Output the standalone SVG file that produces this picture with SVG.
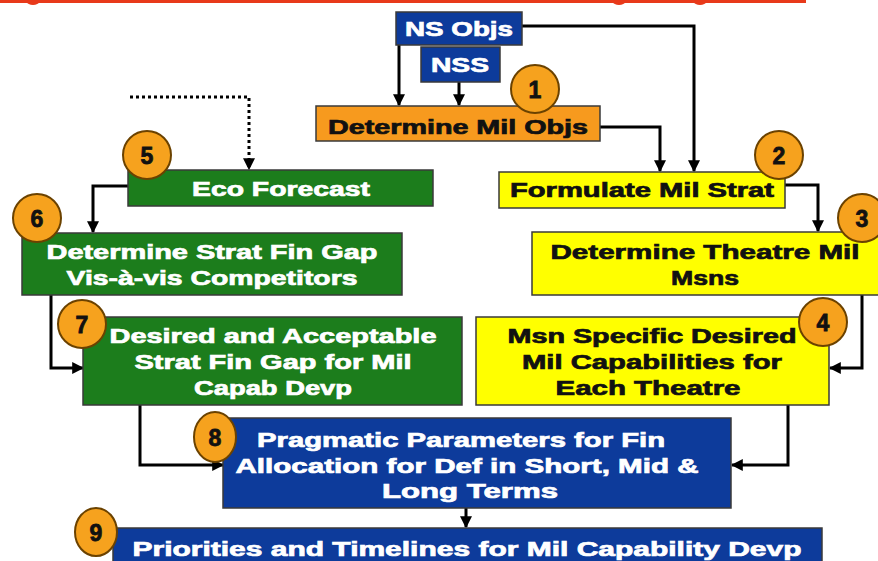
<svg xmlns="http://www.w3.org/2000/svg" width="878" height="561" viewBox="0 0 878 561">
<defs>
<style>
.bx{stroke:#3a3a3a;stroke-width:1.5}
.blue{fill:#0d3b9b}
.green{fill:#1c7d1c}
.yellow{fill:#ffff00}
.orange{fill:#f79a1e}
.t{font-family:"Liberation Sans",Arial,sans-serif;font-weight:bold;font-size:20px;text-anchor:middle}
.w{fill:#ffffff;stroke:#ffffff;stroke-width:0.7}
.k{fill:#111111;stroke:#111111;stroke-width:0.7}
.n{font-family:"Liberation Sans",Arial,sans-serif;font-weight:bold;font-size:23px;text-anchor:middle;fill:#111;stroke:#111;stroke-width:0.8}
.c{fill:#f6a21e;stroke:#6b4200;stroke-width:2}
.ln{fill:none;stroke:#000;stroke-width:3}
.dot{fill:none;stroke:#000;stroke-width:3;stroke-dasharray:3 3}
</style>
<marker id="ah" markerUnits="userSpaceOnUse" viewBox="0 0 10 10" refX="9" refY="5" markerWidth="12" markerHeight="12" orient="auto">
<path d="M0,0 L10,5 L0,10 z" fill="#000"/>
</marker>
</defs>
<rect width="878" height="561" fill="#ffffff"/>
<g id="title-edge">
<rect x="0" y="0" width="806" height="3" fill="#e8391a"/>
<ellipse cx="33" cy="2" rx="6" ry="3" fill="#e8391a"/>
<ellipse cx="619" cy="2" rx="6" ry="3" fill="#e8391a"/>
<ellipse cx="700" cy="2" rx="6" ry="3" fill="#e8391a"/>
</g>
<g id="connectors">
<path class="ln" d="M399,45 V105" marker-end="url(#ah)"/>
<path class="ln" d="M459,82 V105" marker-end="url(#ah)"/>
<path class="ln" d="M522,26 H694 V171" marker-end="url(#ah)"/>
<path class="ln" d="M600,127 H660 V171" marker-end="url(#ah)"/>
<path class="ln" d="M785,185 H818 V231" marker-end="url(#ah)"/>
<path class="ln" d="M862,295 V368 H830" marker-end="url(#ah)"/>
<path class="ln" d="M788,405 V465 H732" marker-end="url(#ah)"/>
<path class="dot" d="M130,97 H249 V169" marker-end="url(#ah)"/>
<path class="ln" d="M128,186 H93 V232" marker-end="url(#ah)"/>
<path class="ln" d="M51,295 V368 H83" marker-end="url(#ah)"/>
<path class="ln" d="M140,405 V465 H223" marker-end="url(#ah)"/>
<path class="ln" d="M466,508 V527" marker-end="url(#ah)"/>
</g>
<g id="ns-objs">
<rect class="bx blue" x="396" y="12" width="126" height="33"/>
<text class="t w" x="459" y="36" textLength="108" lengthAdjust="spacingAndGlyphs">NS Objs</text>
</g>
<g id="nss">
<rect class="bx blue" x="421" y="47" width="79" height="35"/>
<text class="t w" x="460" y="72" textLength="58" lengthAdjust="spacingAndGlyphs">NSS</text>
</g>
<g id="node1">
<rect class="bx orange" x="316" y="106" width="284" height="35"/>
<text class="t k" x="458" y="134" textLength="260" lengthAdjust="spacingAndGlyphs">Determine Mil Objs</text>
<circle class="c" cx="535" cy="89" r="24"/>
<text class="n" x="535" y="98">1</text>
</g>
<g id="node2">
<rect class="bx yellow" x="499" y="172" width="286" height="36"/>
<text class="t k" x="642" y="197" textLength="264" lengthAdjust="spacingAndGlyphs">Formulate Mil Strat</text>
<circle class="c" cx="779" cy="155" r="24"/>
<text class="n" x="779" y="164">2</text>
</g>
<g id="node3">
<rect class="bx yellow" x="532" y="232" width="350" height="63"/>
<text class="t k" x="705" y="259" textLength="309" lengthAdjust="spacingAndGlyphs">Determine Theatre Mil</text>
<text class="t k" x="705" y="285" textLength="68" lengthAdjust="spacingAndGlyphs">Msns</text>
<circle class="c" cx="862" cy="218" r="24"/>
<text class="n" x="862" y="227">3</text>
</g>
<g id="node4">
<rect class="bx yellow" x="476" y="317" width="353" height="88"/>
<text class="t k" x="652" y="343" textLength="289" lengthAdjust="spacingAndGlyphs">Msn Specific Desired</text>
<text class="t k" x="652" y="369" textLength="260" lengthAdjust="spacingAndGlyphs">Mil Capabilities for</text>
<text class="t k" x="648" y="395" textLength="185" lengthAdjust="spacingAndGlyphs">Each Theatre</text>
<circle class="c" cx="823" cy="322" r="24"/>
<text class="n" x="823" y="331">4</text>
</g>
<g id="node5">
<rect class="bx green" x="128" y="170" width="305" height="36"/>
<text class="t w" x="281" y="196" textLength="178" lengthAdjust="spacingAndGlyphs">Eco Forecast</text>
<circle class="c" cx="147" cy="155" r="24"/>
<text class="n" x="147" y="164">5</text>
</g>
<g id="node6">
<rect class="bx green" x="22" y="233" width="380" height="62"/>
<text class="t w" x="212" y="259" textLength="331" lengthAdjust="spacingAndGlyphs">Determine Strat Fin Gap</text>
<text class="t w" x="212" y="285" textLength="291" lengthAdjust="spacingAndGlyphs">Vis-à-vis Competitors</text>
<circle class="c" cx="37" cy="218" r="24"/>
<text class="n" x="37" y="227">6</text>
</g>
<g id="node7">
<rect class="bx green" x="83" y="317" width="379" height="88"/>
<text class="t w" x="273" y="343" textLength="327" lengthAdjust="spacingAndGlyphs">Desired and Acceptable</text>
<text class="t w" x="273" y="369" textLength="277" lengthAdjust="spacingAndGlyphs">Strat Fin Gap for Mil</text>
<text class="t w" x="273" y="395" textLength="158" lengthAdjust="spacingAndGlyphs">Capab Devp</text>
<circle class="c" cx="82" cy="324" r="24"/>
<text class="n" x="82" y="333">7</text>
</g>
<g id="node8">
<rect class="bx blue" x="223" y="418" width="508" height="90"/>
<text class="t w" x="461" y="447" font-size="22" textLength="408" lengthAdjust="spacingAndGlyphs">Pragmatic Parameters for Fin</text>
<text class="t w" x="467" y="473" font-size="22" textLength="463" lengthAdjust="spacingAndGlyphs">Allocation for Def in Short, Mid &amp;</text>
<text class="t w" x="470" y="498" font-size="22" textLength="176" lengthAdjust="spacingAndGlyphs">Long Terms</text>
<ellipse class="c" cx="215" cy="437" rx="21" ry="25"/>
<text class="n" x="215" y="446">8</text>
</g>
<g id="node9">
<rect class="bx blue" x="113" y="528" width="709" height="40"/>
<text class="t w" x="467" y="556" font-size="22" textLength="669" lengthAdjust="spacingAndGlyphs">Priorities and Timelines for Mil Capability Devp</text>
<ellipse class="c" cx="96" cy="532" rx="21" ry="24"/>
<text class="n" x="96" y="541">9</text>
</g>
</svg>
